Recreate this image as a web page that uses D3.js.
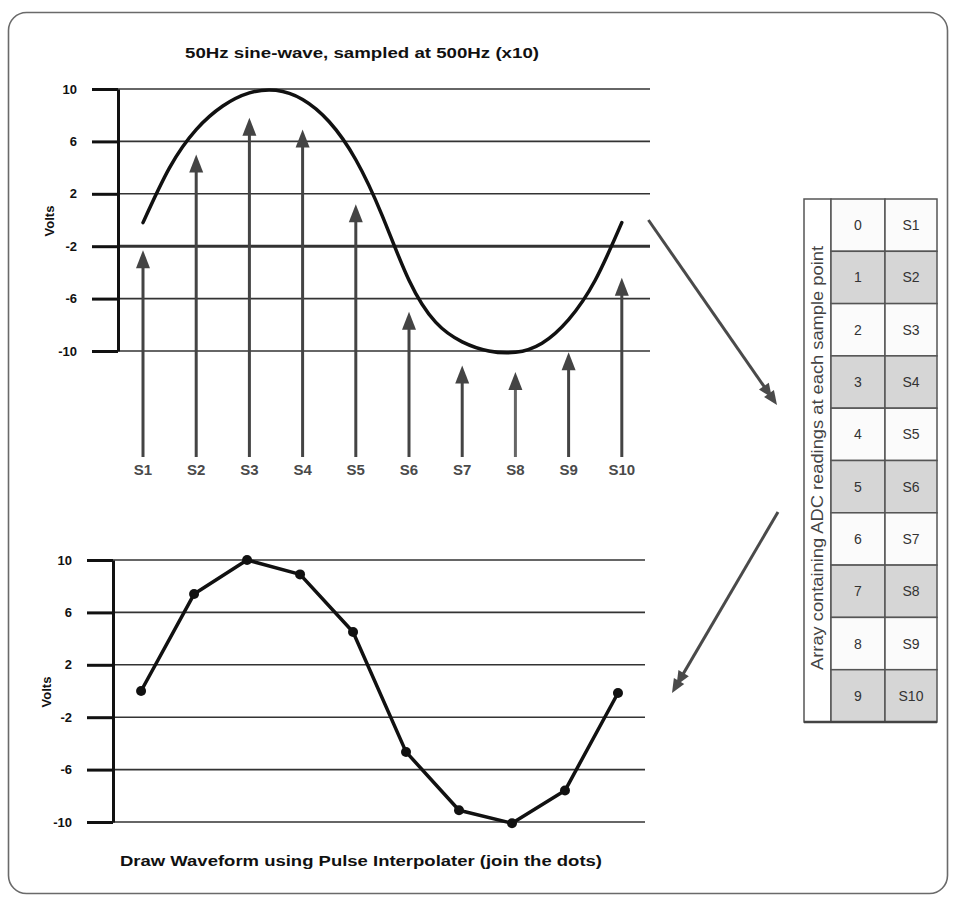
<!DOCTYPE html>
<html>
<head>
<meta charset="utf-8">
<title>Sampling a sine wave</title>
<script src="https://cdn.jsdelivr.net/npm/d3@7"></script>
<style>
    body { margin: 0; background: #fff; }
    svg { display: block; font-family: "Liberation Sans", Arial, sans-serif; }
    .axis text { font-size: 13px; font-weight: bold; fill: #111; }
    .axis path, .axis line { stroke: #111; stroke-width: 3px; }
    .grid line { stroke: #333; stroke-width: 1.6px; }
    .title { font-size: 14.5px; font-weight: bold; fill: #111; }
    .volts { font-size: 13px; font-weight: bold; fill: #111; }
    .sample-label { font-size: 15px; font-weight: bold; fill: #4a4a4a; }
    .cell text { font-size: 14px; fill: #333; }
</style>
</head>
<body>
<div id="chart"></div>
<script>

// Voltage tick values (both plots)
var voltTicks = [10, 6, 2, -2, -6, -10];

// Sample names and array positions
var sampleLabels = ["S1", "S2", "S3", "S4", "S5", "S6", "S7", "S8", "S9", "S10"];
var arrayIndex = [0, 1, 2, 3, 4, 5, 6, 7, 8, 9];

// Sine curve in the top plot, every half sample step (volts)
var curveX = [0, 0.5, 1, 1.5, 2, 2.5, 3, 3.5, 4, 4.5, 5, 5.5, 6, 6.5, 7, 7.5, 8, 8.5, 9];
var curveV = [-0.2, 4.0, 6.9, 8.7, 9.7, 9.9, 9.2, 7.5, 4.6, 0.3, -4.6, -7.8, -9.3, -10.0, -10.1, -9.4, -7.6, -4.6, -0.2];

// Height of each sampling arrow tip (volts)
var arrowTips = [-2.3, 5.0, 7.8, 6.9, 1.2, -7.0, -11.1, -11.6, -10.1, -4.4];

// ADC readings joined in the bottom plot (volts)
var adcReadings = [0.0, 7.4, 10.0, 8.9, 4.5, -4.65, -9.1, -10.1, -7.6, -0.15];

// Text
var topTitle = "50Hz sine-wave, sampled at 500Hz (x10)";
var bottomTitle = "Draw Waveform using Pulse Interpolater (join the dots)";
var tableLabel = "Array containing ADC readings at each sample point";


var width = 954, height = 898;

var svg = d3.select("#chart").append("svg")
    .attr("width", width)
    .attr("height", height);

// outer rounded frame
svg.append("rect")
    .attr("x", 8.5).attr("y", 12.5)
    .attr("width", 939).attr("height", 881)
    .attr("rx", 18)
    .attr("fill", "none")
    .attr("stroke", "#6a6a6a")
    .attr("stroke-width", 1.6);


/*
 *  Shared helper - y axis with ticks, gridlines and "Volts" label
 */
function drawFrame(g, x, y, labelX, thickLine) {
    var x0 = x.range()[0], x1 = x.range()[1];

    g.append("g")
        .attr("class", "grid")
        .selectAll("line")
        .data(voltTicks)
        .enter().append("line")
        .attr("x1", x0).attr("x2", x1)
        .attr("y1", function(d) { return y(d); })
        .attr("y2", function(d) { return y(d); })
        .style("stroke-width", function(d) { return d === thickLine ? "3px" : null; });

    var axis = d3.axisLeft(y)
        .tickValues(voltTicks)
        .tickSizeInner(26)
        .tickSizeOuter(0)
        .tickPadding(15)
        .tickFormat(function(d) { return String(d); });

    g.append("g")
        .attr("class", "axis")
        .attr("transform", "translate(" + x0 + ",0)")
        .call(axis);

    g.append("text")
        .attr("class", "volts")
        .attr("text-anchor", "middle")
        .attr("transform", "translate(" + labelX + "," + (y(0) + 1) + ") rotate(-90)")
        .text("Volts");
}

function arrowHead(tipX, tipY, angle, len, half) {
    // triangle pointing along angle (radians), apex at tip
    var bx = tipX - Math.cos(angle) * len, by = tipY - Math.sin(angle) * len;
    var px = -Math.sin(angle) * half, py = Math.cos(angle) * half;
    return "M" + tipX + "," + tipY + "L" + (bx + px) + "," + (by + py) + "L" + (bx - px) + "," + (by - py) + "Z";
}


// ---------------- Top plot: continuous sine and sampling arrows ----------------
var xTop = d3.scaleLinear().domain([-0.47, 9.53]).range([118, 650]);
var yTop = d3.scaleLinear().domain([-10, 10]).range([351, 89]);
var topPlot = svg.append("g");

drawFrame(topPlot, xTop, yTop, 54, -2);

topPlot.append("text")
    .attr("class", "title")
    .attr("x", 362).attr("y", 58)
    .attr("text-anchor", "middle")
    .attr("textLength", 354)
    .attr("lengthAdjust", "spacingAndGlyphs")
    .text(topTitle);

var curveData = curveX.map(function(d, i) { return [d, curveV[i]]; });

topPlot.append("path")
    .datum(curveData)
    .attr("fill", "none")
    .attr("stroke", "#111")
    .attr("stroke-width", 3.5)
    .attr("stroke-linecap", "round")
    .attr("d", d3.line()
        .curve(d3.curveNatural)
        .x(function(d) { return xTop(d[0]); })
        .y(function(d) { return yTop(d[1]); }));

var arrowBase = 457;
var arrows = topPlot.selectAll(".sample-arrow")
    .data(arrowTips)
    .enter().append("g")
    .attr("class", "sample-arrow");

arrows.append("line")
    .attr("x1", function(d, i) { return xTop(i); })
    .attr("x2", function(d, i) { return xTop(i); })
    .attr("y1", arrowBase)
    .attr("y2", function(d) { return yTop(d) + 12; })
    .attr("stroke", function(d, i) { return i === 7 ? "#666" : "#444"; })
    .attr("stroke-width", 3);

arrows.append("path")
    .attr("fill", "#444")
    .attr("d", function(d, i) { return arrowHead(xTop(i), yTop(d), -Math.PI / 2, 18, 7); });

topPlot.selectAll(".sample-label")
    .data(sampleLabels)
    .enter().append("text")
    .attr("class", "sample-label")
    .attr("x", function(d, i) { return xTop(i); })
    .attr("y", 475)
    .attr("text-anchor", "middle")
    .text(function(d) { return d; });


// ---------------- Bottom plot: joined samples ----------------
var xBot = d3.scaleLinear().domain([-0.53, 9.51]).range([113, 645]);
var yBot = d3.scaleLinear().domain([-10, 10]).range([822, 560]);
var bottomPlot = svg.append("g");

drawFrame(bottomPlot, xBot, yBot, 51, null);

bottomPlot.append("path")
    .datum(adcReadings)
    .attr("fill", "none")
    .attr("stroke", "#111")
    .attr("stroke-width", 3.5)
    .attr("stroke-linejoin", "round")
    .attr("d", d3.line()
        .x(function(d, i) { return xBot(i); })
        .y(function(d) { return yBot(d); }));

bottomPlot.selectAll(".dot")
    .data(adcReadings)
    .enter().append("circle")
    .attr("class", "dot")
    .attr("cx", function(d, i) { return xBot(i); })
    .attr("cy", function(d) { return yBot(d); })
    .attr("r", 5)
    .attr("fill", "#111");

bottomPlot.append("text")
    .attr("class", "title")
    .attr("x", 361).attr("y", 866)
    .attr("text-anchor", "middle")
    .attr("textLength", 482)
    .attr("lengthAdjust", "spacingAndGlyphs")
    .text(bottomTitle);


// ---------------- Array table ----------------
var tableLeft = 804, labelRight = 831, indexRight = 885, tableRight = 937;
var rowY = d3.scaleBand().domain(arrayIndex).range([199, 722]);
var table = svg.append("g");

table.append("rect")
    .attr("x", tableLeft).attr("y", rowY.range()[0])
    .attr("width", labelRight - tableLeft)
    .attr("height", rowY.range()[1] - rowY.range()[0])
    .attr("fill", "#fff")
    .attr("stroke", "#555")
    .attr("stroke-width", 1.5);

var rows = table.selectAll(".cell")
    .data(arrayIndex)
    .enter().append("g")
    .attr("class", "cell")
    .attr("transform", function(d) { return "translate(0," + rowY(d) + ")"; });

[[labelRight, indexRight], [indexRight, tableRight]].forEach(function(col, c) {
    rows.append("rect")
        .attr("x", col[0]).attr("y", 0)
        .attr("width", col[1] - col[0])
        .attr("height", rowY.bandwidth())
        .attr("fill", function(d) { return d % 2 ? "#d6d6d6" : "#fbfbfb"; })
        .attr("stroke", "#555")
        .attr("stroke-width", 1.5);

    rows.append("text")
        .attr("x", (col[0] + col[1]) / 2)
        .attr("y", rowY.bandwidth() / 2 + 5)
        .attr("text-anchor", "middle")
        .text(function(d, i) { return c === 0 ? d : sampleLabels[i]; });
});

table.append("line")
    .attr("x1", tableLeft).attr("x2", tableRight)
    .attr("y1", rowY.range()[1]).attr("y2", rowY.range()[1])
    .attr("stroke", "#444").attr("stroke-width", 2.5);

table.append("text")
    .attr("transform", "translate(" + (tableLeft + 19) + "," + 458 + ") rotate(-90)")
    .attr("text-anchor", "middle")
    .attr("textLength", 424)
    .attr("lengthAdjust", "spacingAndGlyphs")
    .style("font-size", "16px")
    .style("fill", "#444")
    .text(tableLabel);


// ---------------- Connector arrows (plot -> table -> plot) ----------------
var connectors = [
    { from: [xTop(9.5), yTop(0)], to: [tableLeft - 27, 405] },
    { from: [tableLeft - 26, 512], to: [xBot(9.51) + 27, 693] }
];

connectors.forEach(function(c) {
    var ang = Math.atan2(c.to[1] - c.from[1], c.to[0] - c.from[0]);
    svg.append("line")
        .attr("x1", c.from[0]).attr("y1", c.from[1])
        .attr("x2", c.to[0] - Math.cos(ang) * 10).attr("y2", c.to[1] - Math.sin(ang) * 10)
        .attr("stroke", "#4a4a4a")
        .attr("stroke-width", 3);
    // doubled head
    [0, 9].forEach(function(back) {
        svg.append("path")
            .attr("fill", "#4a4a4a")
            .attr("d", arrowHead(c.to[0] - Math.cos(ang) * back, c.to[1] - Math.sin(ang) * back, ang, 14, 6));
    });
});

</script>
</body>
</html>
